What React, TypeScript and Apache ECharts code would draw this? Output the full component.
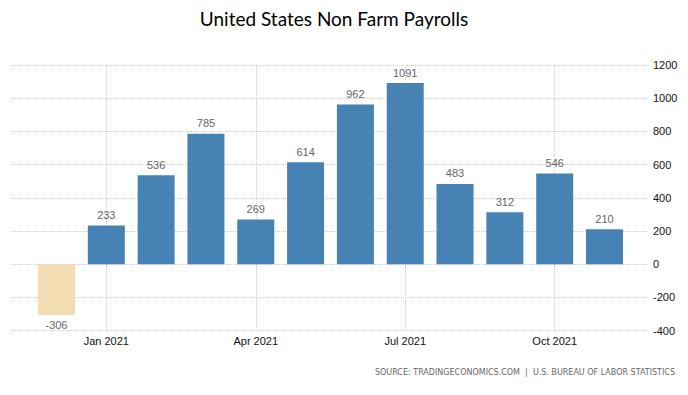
import React, { useEffect, useRef } from "react";
import * as echarts from "echarts";

const categories = [
  "Dec 2020", "Jan 2021", "Feb 2021", "Mar 2021", "Apr 2021", "May 2021",
  "Jun 2021", "Jul 2021", "Aug 2021", "Sep 2021", "Oct 2021", "Nov 2021",
];
const payrolls = [-306, 233, 536, 785, 269, 614, 962, 1091, 483, 312, 546, 210];
const xTickIndices = [1, 4, 7, 10];
const xTickLabels = ["Jan 2021", "Apr 2021", "Jul 2021", "Oct 2021"];
const yTicks = { min: -400, max: 1200, interval: 200 };

const TITLE = "United States Non Farm Payrolls";
const SOURCE = "SOURCE: TRADINGECONOMICS.COM  |  U.S. BUREAU OF LABOR STATISTICS";

export default function App() {
  const ref = useRef<HTMLDivElement>(null);
  useEffect(() => {
    if (!ref.current) return;
    const chart = echarts.init(ref.current, null, { renderer: "svg" });
    const gridColor = "#cccccc";
    chart.setOption({
      animation: false,
      backgroundColor: "#ffffff",
      textStyle: { fontFamily: "Liberation Sans" },
      grid: { left: 11, right: 40, top: 65, bottom: 64.5, containLabel: false },
      xAxis: {
        type: "value",
        min: -0.913,
        max: 11.873,
        axisLine: { show: false },
        axisTick: {
          show: true,
          customValues: xTickIndices,
          length: 3,
          lineStyle: { color: gridColor, type: "dotted" },
        },
        axisLabel: {
          customValues: xTickIndices,
          margin: 5,
          fontSize: 11,
          color: "#111",
          formatter: (v: number) => {
            const k = xTickIndices.indexOf(Math.round(v));
            return k >= 0 ? xTickLabels[k] : "";
          },
        },
        splitLine: { show: true, lineStyle: { color: gridColor, type: "dotted" } },
      },
      yAxis: {
        type: "value",
        position: "right",
        min: yTicks.min,
        max: yTicks.max,
        interval: yTicks.interval,
        axisLine: { show: false },
        axisTick: { show: false },
        axisLabel: {
          margin: 5,
          fontSize: 11,
          color: "#111",
          formatter: (v: number) => String(v),
        },
        splitLine: { show: true, lineStyle: { color: gridColor, type: "dotted" } },
      },
      series: [
        {
          type: "bar",
          barWidth: 37,
          data: payrolls.map((v, i) => ({
            value: [i, v],
            itemStyle: { color: v < 0 ? "#f5deb3" : "#4682b4" },
            label: { position: v < 0 ? "bottom" : "top" },
          })),
          label: {
            show: true,
            distance: 5,
            fontSize: 11,
            color: "#666",
            formatter: (p: any) => String(p.value[1]),
          },
        },
      ],
      graphic: [
        {
          type: "text",
          x: 334,
          y: 18,
          style: {
            text: TITLE,
            fontFamily: "Lato",
            fontSize: 19,
            fill: "#000",
            textAlign: "center",
            textVerticalAlign: "middle",
          },
        },
        {
          type: "text",
          x: 675,
          y: 372,
          style: {
            text: SOURCE,
            fontFamily: "DejaVu Sans",
            fontSize: 8,
            fill: "#666",
            textAlign: "right",
            textVerticalAlign: "middle",
          },
        },
      ],
    });
    return () => chart.dispose();
  }, []);
  return (
    <div
      ref={ref}
      style={{ position: "fixed", left: 0, top: 0, width: 688, height: 395 }}
    />
  );
}
